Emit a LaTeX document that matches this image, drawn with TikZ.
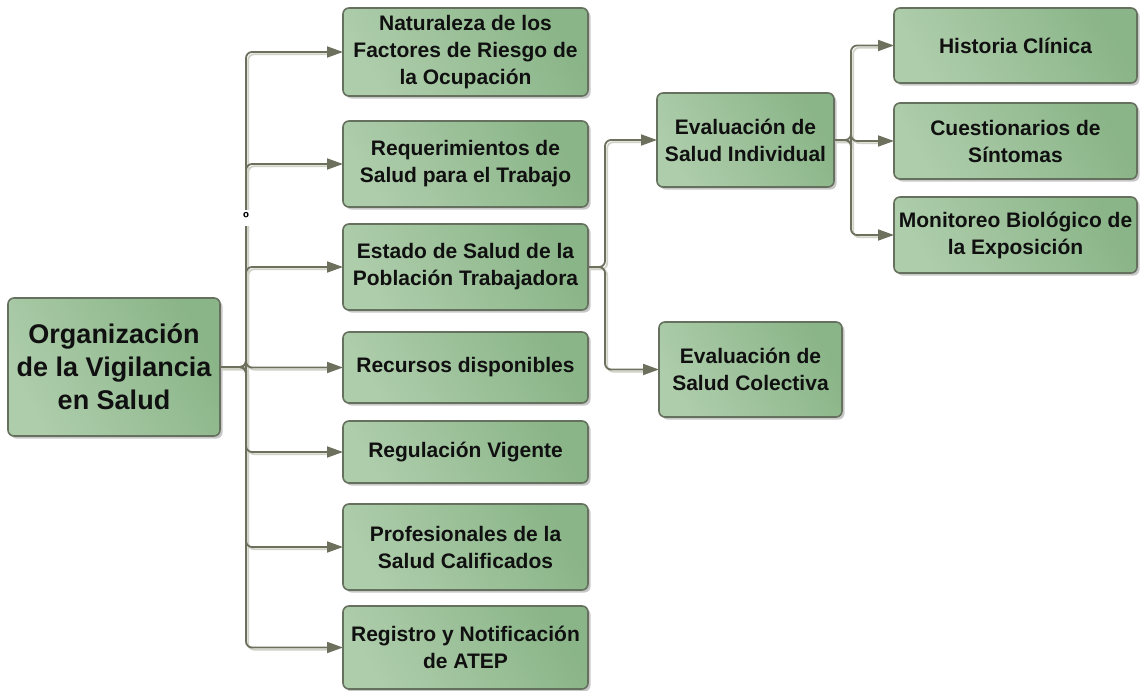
\documentclass[tikz,border=0pt]{standalone}
\usepackage{fontspec}
\setmainfont{Liberation Sans}
\usetikzlibrary{arrows.meta,shadows}
\definecolor{boxA}{HTML}{AECDAB}
\definecolor{boxB}{HTML}{8AB588}
\definecolor{boxline}{HTML}{66705F}
\definecolor{conn}{HTML}{6C705D}
\definecolor{connshade}{HTML}{CFD2C6}
\definecolor{txt}{HTML}{101010}
\begin{document}
\begin{tikzpicture}[x=1pt,y=-1pt,
  box/.style={draw=boxline, line width=1.6pt, rounded corners=6pt,
    left color=boxA, right color=boxB, shading angle=120,
    drop shadow={shadow xshift=2.5pt, shadow yshift=-2.5pt, fill=black, opacity=0.22},
    align=center, inner sep=2pt, outer sep=0pt, text=txt,
    font=\fontsize{21}{27}\selectfont\bfseries},
  rootbox/.style={box, font=\fontsize{27}{33}\selectfont\bfseries},
  conline/.style={draw=conn, line width=1.8pt, rounded corners=6pt,
    -{Triangle[length=16pt,width=11pt]}},
  shadeline/.style={draw=connshade, line width=1.8pt, rounded corners=6pt},
]
\useasboundingbox (0,0) rectangle (1144,691);

% nodes
\node[rootbox, minimum width=212pt, minimum height=138pt] (root) at (114,367) {Organización\\de la Vigilancia\\en Salud};
\node[box, minimum width=245pt, minimum height=88pt] (n1) at (465.5,52) {Naturaleza de los\\Factores de Riesgo de\\la Ocupación};
\node[box, minimum width=245pt, minimum height=86pt] (n2) at (465.5,164) {Requerimientos de\\Salud para el Trabajo};
\node[box, minimum width=245pt, minimum height=86pt] (n3) at (465.5,267) {Estado de Salud de la\\Población Trabajadora};
\node[box, minimum width=245pt, minimum height=71pt] (n4) at (465.5,367.5) {Recursos disponibles};
\node[box, minimum width=245pt, minimum height=62pt] (n5) at (465.5,452) {Regulación Vigente};
\node[box, minimum width=245pt, minimum height=86pt] (n6) at (465.5,547) {Profesionales de la\\Salud Calificados};
\node[box, minimum width=245pt, minimum height=83pt] (n7) at (465.5,647.5) {Registro y Notificación\\de ATEP};
\node[box, minimum width=177pt, minimum height=94pt] (ind) at (745.5,140) {Evaluación de\\Salud Individual};
\node[box, minimum width=183pt, minimum height=95pt] (col) at (750.5,369.5) {Evaluación de\\Salud Colectiva};
\node[box, minimum width=243pt, minimum height=75pt] (h1) at (1015.5,45.5) {Historia Clínica};
\node[box, minimum width=243pt, minimum height=76pt] (h2) at (1015.5,141) {Cuestionarios de\\Síntomas};
\node[box, minimum width=243pt, minimum height=76pt] (h3) at (1015.5,235) {Monitoreo Biológico de\\la Exposición};

% connector shadows
\foreach \t in {n1,n2,n3,n4,n5,n6,n7}{
  \draw[shadeline, transform canvas={shift={(2.2pt,-2.2pt)}}] (root.east) -- ++(26,0) |- ([xshift=-12pt]\t.west);
}
\foreach \t in {ind,col}{
  \draw[shadeline, transform canvas={shift={(2.2pt,-2.2pt)}}] (n3.east) -- ++(17,0) |- ([xshift=-12pt]\t.west);
}
\foreach \t in {h1,h2,h3}{
  \draw[shadeline, transform canvas={shift={(2.2pt,-2.2pt)}}] (ind.east) -- ++(17,0) |- ([xshift=-12pt]\t.west);
}

% connectors
\foreach \t in {n1,n2,n3,n4,n5,n6,n7}{
  \draw[conline] (root.east) -- ++(26,0) |- (\t.west);
}
\foreach \t in {ind,col}{
  \draw[conline] (n3.east) -- ++(17,0) |- (\t.west);
}
\foreach \t in {h1,h2,h3}{
  \draw[conline] (ind.east) -- ++(17,0) |- (\t.west);
}

% small mark on the trunk
\node[fill=white, inner xsep=1pt, inner ysep=2pt, font=\fontsize{16}{16}\selectfont\bfseries] (mark) at (246,218) {º};
\end{tikzpicture}
\end{document}
